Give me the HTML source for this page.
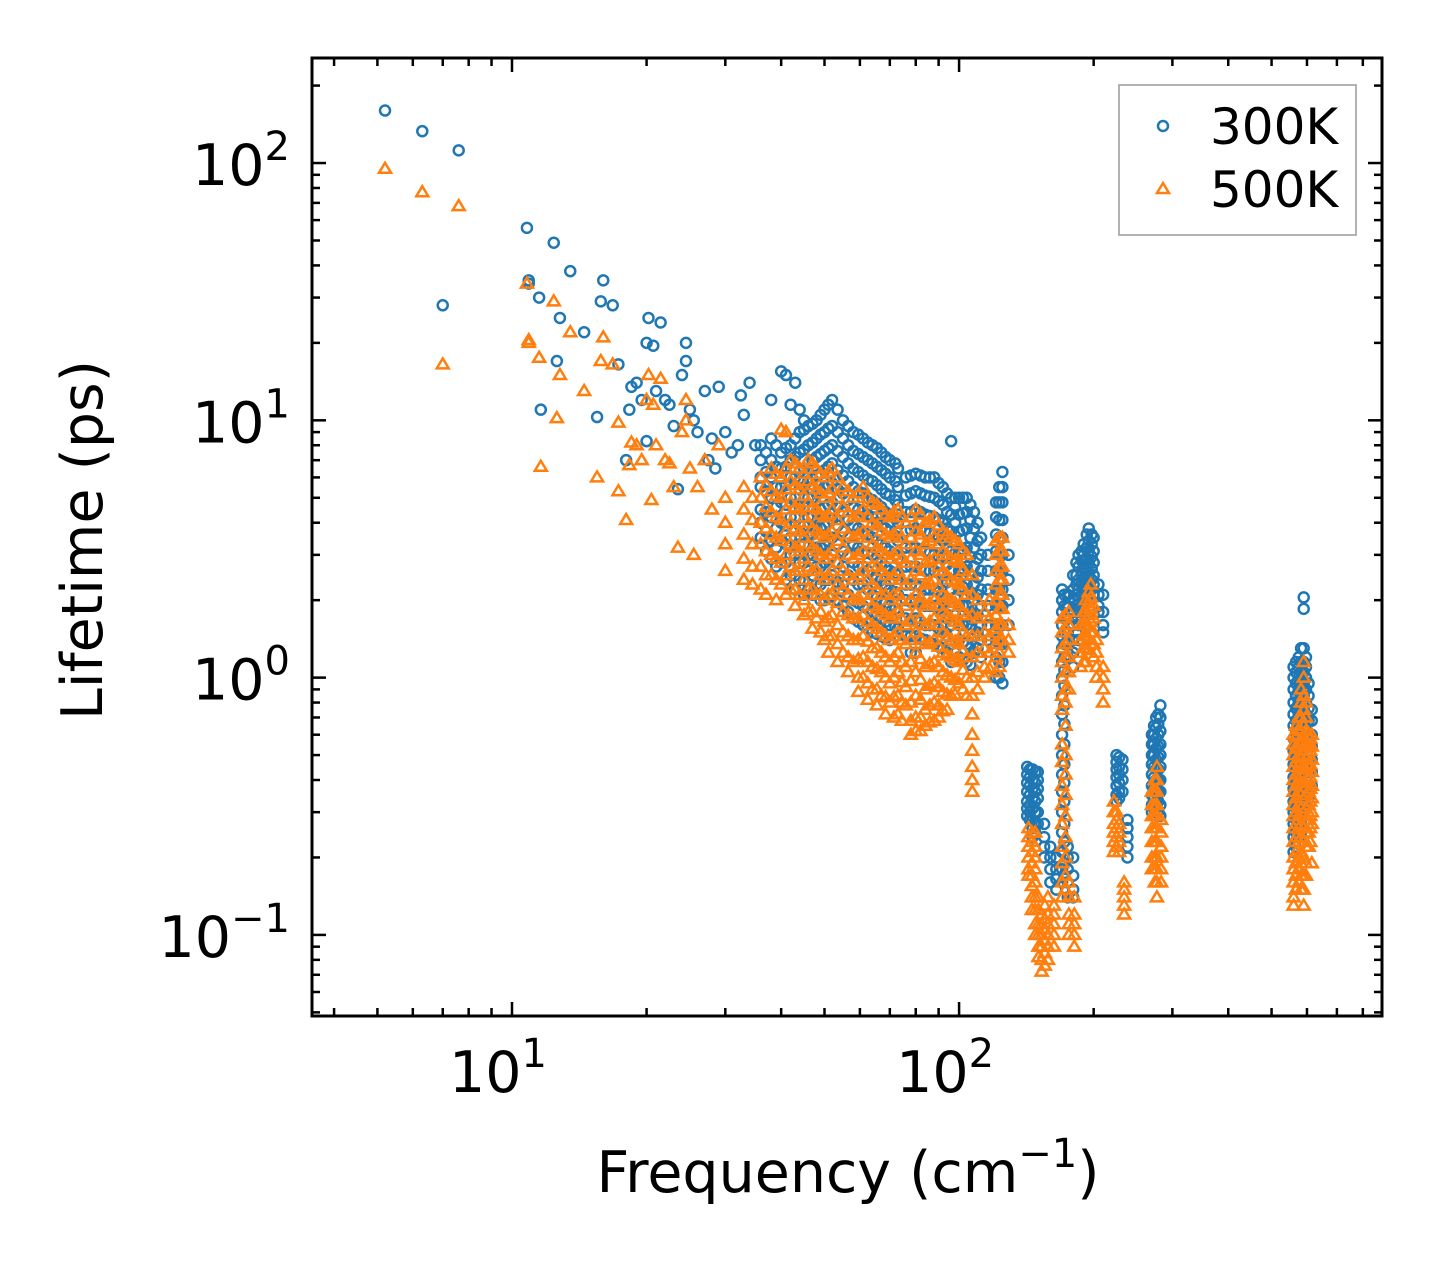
<!DOCTYPE html>
<html><head><meta charset="utf-8"><style>
html,body{margin:0;padding:0;background:#fff;}
svg{display:block;font-family:"DejaVu Sans","Liberation Sans",sans-serif;}
</style></head><body>
<svg id="chart" width="1442" height="1265" viewBox="0 0 1442 1265" xmlns="http://www.w3.org/2000/svg">
<rect width="1442" height="1265" fill="#fff"/>
<g id="marks300"></g>
<g id="marks500"></g>
<g id="axes"></g>
<rect x="312" y="58" width="1070" height="958" fill="none" stroke="#000" stroke-width="3"/>
<text transform="translate(102,540) rotate(-90)" text-anchor="middle" font-size="57">Lifetime (ps)</text>
<text x="848" y="1192" text-anchor="middle" font-size="57">Frequency (cm<tspan font-size="40" dy="-25">−1</tspan><tspan dy="25">)</tspan></text>
<g>
<rect x="1119" y="85" width="237" height="150" fill="#fff" stroke="#999" stroke-width="1.5"/>
<circle cx="1163" cy="126" r="5" fill="none" stroke="#1f77b4" stroke-width="2.5"/>
<text x="1210" y="144" font-size="50">300K</text>
<polygon points="1163,183 1169,193 1157,193" fill="none" stroke="#ff7f0e" stroke-width="2.5"/>
<text x="1210" y="207" font-size="50">500K</text>
</g>
</svg>
<script>
// columns: [frequency, lifetime, lifetime, ...]
const xTickValues = [10, 100];
const xTickLabels = ["10", "10"];
const xTickExps = ["1", "2"];
const yTickValues = [0.1, 1, 10, 100];
const yTickLabels = ["10", "10", "10", "10"];
const yTickExps = ["−1", "0", "1", "2"];

const series300 = [
[5.2,160],[6.3,133],[7.0,28],[7.6,112],[10.8,56],[10.9,35,34],[11.5,30],[11.6,11],[12.4,49],[12.6,17],[12.8,25],[13.5,38],[14.5,22],[15.5,10.3],[15.8,29],[16,35],[16.8,28],[17.3,16.5],[18,7],[18.3,11],[18.5,13.5],[19,14],[19.5,12],[20,20,8.3],[20.2,25],[20.7,19.5],[21,13],[21.5,24],[22,12],[22.5,11.5],[23,9.5],[23.5,5.4],[24,15],[24.5,20,17],[25,11],[25.5,10],[26,9],[27,13],[27.5,7],[28,8.5],[28.5,6.5],[29,13.5],[30,9],[31,7.5],[32,8],[32.5,12.5],[33,10.5],[34,14],[35,8],[38,12],[40,15.5],[41,15],[42,11.5],[43,14],[44,11],[45,10],
[36,8,7,6,5.5,4.5,4,3.5],[38,8.5,7,6,5,4.2,3.4,2.9],[40,7.5,6.5,5.5,4.8,4,3.4,2.8],[42,8,7,6,5,4.2,3.5,3,2.5],
[44,9,7.5,6.3,5.4,4.6,3.9,3.3,2.8,2.4],[46,9.5,8,6.8,5.8,5,4.2,3.6,3,2.6,2.2],[48,10,8.5,7.2,6.1,5.2,4.4,3.8,3.2,2.7,2.3],
[50,11,9,7.6,6.4,5.5,4.6,3.9,3.3,2.8,2.4,2],[52,12,9.5,8,6.8,5.7,4.8,4.1,3.5,3,2.5,2.1],[55,10,8.5,7.2,6.1,5.2,4.4,3.7,3.1,2.7,2.3,1.9],
[58,9,7.6,6.5,5.5,4.6,3.9,3.3,2.8,2.4,2,1.7],[61,8.5,7.2,6.1,5.2,4.4,3.7,3.1,2.7,2.3,1.9,1.6],[64,8,6.8,5.8,4.9,4.2,3.5,3,2.5,2.1,1.8,1.5],
[67,7.5,6.4,5.4,4.6,3.9,3.3,2.8,2.4,2,1.7,1.45],[70,7,6,5.1,4.3,3.7,3.1,2.6,2.2,1.9,1.6,1.4],[73,6.5,5.5,4.7,4,3.4,2.9,2.5,2.1,1.8,1.55],
[76,6,5.1,4.4,3.7,3.2,2.7,2.3,2,1.7,1.45],[80,6.2,5.3,4.5,3.8,3.2,2.7,2.3,2,1.7,1.45,1.25],[84,6,5.1,4.3,3.7,3.1,2.6,2.2,1.9,1.6,1.4],
[88,6,5,4.2,3.6,3,2.6,2.2,1.9,1.6,1.35],[92,5.5,4.7,4,3.4,2.9,2.5,2.1,1.8,1.5,1.3],[96,8.3,5,4.3,3.7,3.1,2.6,2.2,1.9,1.6,1.35,1.15],
[100,5,4.3,3.7,3.1,2.6,2.2,1.9,1.6,1.4,1.2],[104,5,4.4,3.8,3.2,2.7,2.3,1.9,1.6,1.35,1.15],[108,4.4,3.8,3.2,2.7,2.3,2,1.7,1.45,1.25],
[112,3.5,3,2.6,2.2,1.9,1.6,1.4,1.2],[116,3,2.6,2.2,1.9,1.6,1.4],[121,4.8,4.2,3.6,3.1,2.6,2.2,1.9,1.6,1.4,1.2,1.0],
[125,6.3,5.5,4.8,4.1,3.5,3,2.6,2.2,1.9,1.6,1.35,1.15,0.95],[129,3,2.4,2,1.6],
[37,7.5,6.3,5.3,4.4,3.7,3.1],[39,8,6.6,5.5,4.6,3.8,3.2,2.7],[41,7.8,6.6,5.6,4.7,3.9,3.3,2.8,2.4],[43,8.5,7.2,6,5,4.2,3.5,3,2.5,2.2],
[45,9.2,7.7,6.5,5.5,4.6,3.9,3.3,2.8,2.4,2.1],[47,9.7,8.2,7,5.9,5,4.2,3.6,3,2.5,2.1],[49,10.5,8.8,7.4,6.2,5.3,4.5,3.8,3.2,2.7,2.3,2],
[51,11.5,9.3,7.8,6.6,5.6,4.7,4,3.4,2.9,2.4,2.05],[53.5,11,9,7.6,6.4,5.4,4.6,3.9,3.3,2.8,2.35,2],[56.5,9.5,8,6.8,5.8,4.9,4.1,3.5,3,2.5,2.1,1.8],
[59.5,8.8,7.4,6.3,5.3,4.5,3.8,3.2,2.7,2.3,1.95,1.65],[62.5,8.2,7,5.9,5,4.3,3.6,3.05,2.6,2.2,1.85,1.55],[65.5,7.8,6.6,5.6,4.75,4,3.4,2.9,2.45,2.05,1.75,1.48],
[68.5,7.2,6.2,5.2,4.4,3.8,3.2,2.7,2.3,1.95,1.65,1.42],[72,6.8,5.8,4.9,4.15,3.55,3,2.55,2.15,1.85,1.58],[78,6.1,5.2,4.4,3.75,3.2,2.7,2.3,1.97,1.68,1.45,1.25],
[82,6.1,5.2,4.4,3.75,3.15,2.65,2.25,1.95,1.65,1.42],[86,6,5.05,4.25,3.65,3.05,2.6,2.2,1.9,1.6,1.37],[90,5.7,4.85,4.1,3.5,2.95,2.55,2.15,1.85,1.55,1.32],
[94,5.2,4.4,3.8,3.2,2.75,2.35,2,1.7,1.45,1.25],[98,5,4.6,4,3.4,2.9,2.4,2.05,1.75,1.48,1.25],[102,5,4.35,3.75,3.15,2.65,2.25,1.9,1.6,1.37,1.17],
[106,4.7,4.1,3.5,2.95,2.5,2.15,1.8,1.55,1.3,1.12],[110,4,3.4,2.9,2.45,2.1,1.75,1.5,1.3],[123,5.5,4.8,4.1,3.5,3,2.55,2.2,1.9,1.6,1.35,1.15,1.0],
[142,0.45,0.42,0.39,0.36,0.33,0.31,0.29],[144,0.44,0.41,0.38,0.35,0.32,0.3,0.28],[146,0.44,0.4,0.37,0.34,0.31,0.28,0.26,0.24],[148,0.43,0.39,0.36,0.33,0.3,0.27,0.25],[150,0.43,0.4,0.37,0.34,0.3,0.27],
[155,0.27,0.24,0.22,0.2],[160,0.22,0.2,0.18,0.16],[165,0.2,0.18,0.165,0.15],
[170,2.2,2,1.8,1.6,1.45,1.3,1.15,1.0,0.85,0.72,0.6,0.5,0.42,0.36,0.3,0.25,0.21,0.18,0.16],
[172,2.1,1.9,1.7,1.5,1.35,1.2,1.07,0.93,0.78,0.66,0.55,0.46,0.39,0.33,0.27,0.23,0.19,0.17],
[175,2.1,1.9,1.7,1.5,1.35,1.2,0.22,0.2,0.18,0.16,0.14],[180,2.5,2.2,2,1.8,1.6,1.4,1.25,1.1,0.2,0.17,0.15,0.14],
[183,2.8,2.5,2.3,2.1,1.9,1.7,1.5,1.3],[185,3,2.7,2.4,2.2,2,1.8,1.6,1.4],[188,3.1,2.85,2.55,2.3,2.1,1.9,1.7],[190,3.3,3,2.7,2.4,2.2,2,1.8],
[193,3.6,3.2,2.9,2.6,2.4,2.2,2],[195,3.8,3.4,3.1,2.8,2.5,2.3,2.1],[198,3.6,3.3,2.95,2.65,2.4,2.2],[200,3.5,3.1,2.8,2.5,2.3,2.1],
[205,2.3,2.1,1.9,1.8],[210,2.1,1.8,1.6,1.5],
[225,0.5,0.47,0.44,0.41,0.38,0.35,0.33],[228,0.49,0.45,0.42,0.39,0.36,0.34],[232,0.48,0.44,0.4,0.36],[238,0.28,0.26,0.24,0.22,0.2],
[270,0.6,0.55,0.5,0.46,0.42,0.38,0.35,0.32,0.3],[273,0.65,0.6,0.55,0.5,0.45,0.41,0.37,0.34,0.31],[276,0.7,0.64,0.58,0.53,0.48,0.44,0.4,0.36,0.33],
[279,0.72,0.66,0.6,0.54,0.49,0.44,0.4,0.36,0.33,0.3],[282,0.78,0.7,0.62,0.55,0.5,0.45,0.4,0.36,0.32,0.29],
[560,1.1,1.0,0.9,0.8,0.72,0.65,0.58,0.52,0.46,0.41,0.37,0.33,0.3,0.27,0.24,0.21],
[567,1.15,1.05,0.95,0.85,0.76,0.68,0.61,0.55,0.49,0.44,0.39,0.35,0.31,0.28,0.25,0.22],
[575,1.2,1.1,1.0,0.9,0.8,0.72,0.65,0.58,0.52,0.46,0.41,0.37,0.33,0.3,0.27,0.24],
[582,1.3,1.15,1.05,0.95,0.85,0.76,0.68,0.61,0.55,0.49,0.44,0.39,0.35,0.31,0.28,0.25],
[590,2.05,1.85,1.3,1.15,1.05,0.95,0.85,0.76,0.68,0.6,0.54,0.48,0.43,0.38,0.34,0.3],
[597,1.2,1.1,1.0,0.9,0.8,0.72,0.64,0.57,0.51,0.45,0.4,0.36,0.32],
[605,0.95,0.85,0.76,0.68,0.6,0.54,0.48,0.43,0.38,0.34],[615,0.75,0.68,0.6,0.54,0.48,0.43,0.38]
];

const series500 = [
[5.2,95],[6.3,77],[7.0,16.5],[7.6,68],[10.8,34],[10.9,20.5,20],[11.5,17.5],[11.6,6.6],[12.4,29],[12.6,10.2],[12.8,15],[13.5,22],[14.5,13],[15.5,6],[15.8,17],[16,21],[16.8,16.5],[17.3,9.8,5.3],[18,4.1],[18.3,6.7],[18.5,8.2],[19,8],[19.5,7],[20,12],[20.2,15],[20.5,4.9],[20.7,11.5],[21,8],[21.5,14.5],[22,7],[22.5,6.8],[23,5.5],[23.5,3.2],[24,9],[24.5,12,10],[25,6.5],[25.5,3],[26,5.5],[27,7],[28,4.5],[29,8],[40,9.2],[41,9],
[30,5,4,3.3,2.6],[33,5.5,4.5,3.6,2.9,2.4],[36,6,5,4,3.3,2.7,2.2],[38,6.5,5.3,4.4,3.6,3,2.5],[40,6,5,4.1,3.4,2.8,2.3],
[42,7,5.8,4.8,4,3.3,2.7,2.2],[44,6.5,5.4,4.5,3.7,3.1,2.6,2.1],[46,7,5.8,4.8,4,3.3,2.7,2.2,1.8],[48,6.5,5.4,4.5,3.7,3.1,2.6,2.1,1.7],
[50,6,5,4.2,3.5,2.9,2.4,2,1.65,1.4],[52,6.5,5.4,4.5,3.7,3.1,2.6,2.1,1.75,1.45],[55,5.5,4.6,3.8,3.2,2.6,2.2,1.8,1.5,1.25],
[58,5,4.2,3.5,2.9,2.4,2,1.7,1.4,1.15],[61,5.5,4.5,3.7,3.1,2.6,2.1,1.75,1.45,1.2,1.0],[64,4.8,4,3.3,2.7,2.3,1.9,1.6,1.3,1.1,0.9],
[67,4.5,3.7,3.1,2.6,2.1,1.8,1.5,1.25,1.05,0.85],[70,4.2,3.5,2.9,2.4,2,1.7,1.4,1.15,0.95,0.8],[73,4.5,3.7,3.1,2.6,2.1,1.8,1.5,1.25,1.05,0.85,0.72],
[76,4,3.3,2.8,2.3,1.9,1.6,1.35,1.1,0.92,0.78],[80,4.5,3.7,3.1,2.6,2.1,1.8,1.5,1.25,1.05,0.85,0.7,0.62],[84,4,3.3,2.8,2.3,1.9,1.6,1.35,1.1,0.9,0.75,0.65],
[88,4.2,3.5,2.9,2.4,2,1.7,1.4,1.15,0.95,0.8,0.68],[92,3.7,3.1,2.6,2.1,1.8,1.5,1.25,1.05,0.88,0.74],[96,3.5,2.9,2.4,2,1.7,1.4,1.2,1.0,0.85],
[100,3.3,2.8,2.3,1.9,1.6,1.35,1.15,0.95],[104,3,2.5,2.1,1.75,1.45,1.2,1.0,0.85],[107,2.5,2.1,1.75,1.45,1.2,1.0,0.85,0.72,0.6,0.52,0.45,0.4,0.36],
[110,2,1.7,1.45,1.25,1.05,0.9],[114,1.8,1.5,1.3,1.1,1.0],[121,3.4,3,2.6,2.3,2,1.75,1.55,1.35,1.2,1.05],[125,3.5,3.1,2.7,2.4,2.1,1.85,1.6,1.4],[129,1.6,1.4,1.25],
[34.5,5,4.1,3.3,2.7,2.3],[37,5.6,4.6,3.8,3.1,2.5,2.1],[39,6.2,5.1,4.2,3.5,2.9,2.4,2.0],[41,6.5,5.4,4.5,3.7,3,2.5,2.1],
[43,6.8,5.6,4.6,3.8,3.2,2.6,2.2,1.9],[45,6.2,5.1,4.2,3.5,2.9,2.4,2,1.75],[47,6.8,5.6,4.6,3.8,3.2,2.6,2.2,1.8,1.55],
[49,6.2,5.2,4.3,3.6,3,2.5,2.1,1.8,1.5],[51,6.3,5.2,4.3,3.6,3,2.5,2.1,1.7,1.45,1.25],[53.5,6,5,4.1,3.4,2.8,2.3,1.95,1.6,1.35,1.15],
[56.5,5.3,4.4,3.6,3,2.5,2.1,1.75,1.45,1.2,1.05],[59.5,5.2,4.3,3.6,3,2.5,2.05,1.7,1.4,1.18,1.0,0.88],[62.5,5,4.2,3.5,2.9,2.4,2,1.65,1.38,1.15,0.95,0.82],
[65.5,4.7,3.9,3.2,2.7,2.2,1.85,1.55,1.3,1.08,0.9,0.78],[68.5,4.3,3.6,3,2.5,2.1,1.75,1.45,1.2,1,0.84,0.72],[71.5,4.4,3.6,3,2.5,2.1,1.75,1.45,1.2,1,0.84,0.7],
[74.5,4.2,3.5,2.9,2.4,2,1.7,1.4,1.15,0.96,0.8,0.68],[78,4.2,3.5,2.9,2.4,2,1.65,1.4,1.15,0.97,0.8,0.68,0.6],[82,4.3,3.6,3,2.5,2.05,1.7,1.42,1.18,0.98,0.82,0.7,0.62],
[86,4.1,3.4,2.85,2.35,1.95,1.65,1.37,1.13,0.93,0.78,0.67],[90,3.9,3.3,2.7,2.25,1.9,1.6,1.32,1.1,0.92,0.78,0.7],[94,3.6,3,2.5,2.05,1.75,1.45,1.22,1.02,0.86,0.75],
[98,3.4,2.85,2.35,1.95,1.65,1.38,1.17,0.98,0.86],[102,3.1,2.6,2.2,1.8,1.5,1.27,1.07,0.9],[117,2,1.7,1.45,1.25,1.08],[123,3.5,3.1,2.7,2.4,2.1,1.85,1.6,1.4,1.25,1.1],
[143,0.26,0.24,0.22,0.2,0.18,0.17],[145.5,0.25,0.23,0.21,0.19,0.17,0.155,0.14,0.125],[148,0.25,0.22,0.2,0.18,0.16,0.14,0.125,0.11,0.1],
[150.5,0.14,0.125,0.11,0.1,0.09,0.082],[153,0.12,0.11,0.1,0.09,0.08,0.072],[155.5,0.13,0.115,0.105,0.095,0.085,0.076],
[158,0.14,0.12,0.11,0.1,0.09,0.08],[163,0.13,0.12,0.11,0.1,0.09],
[170,1.7,1.5,1.3,1.15,1.0,0.85,0.75,0.55,0.47,0.38,0.32,0.27,0.22,0.19,0.16,0.14],
[173,1.75,1.55,1.35,1.2,1.05,0.9,0.8,0.65,0.5,0.42,0.35,0.29,0.24,0.2,0.17,0.15],
[176,1.8,1.6,1.4,1.2,1.05,0.9,0.16,0.14,0.12,0.11,0.1],[181,0.14,0.12,0.11,0.1,0.09],
[187,1.6,1.4,1.25,1.1],[190,1.8,1.6,1.45,1.3,1.15],[192,2,1.8,1.6,1.45,1.3,1.15],[195,2.15,1.95,1.75,1.58,1.42,1.28],[197,2.3,2.05,1.85,1.65,1.5,1.35],
[200,1.9,1.7,1.5,1.35,1.2],[203,1.4,1.25,1.1,1.0],[210,1.1,1.0,0.9,0.8],
[222,0.33,0.3,0.27,0.25,0.23,0.21],[225,0.3,0.28,0.26,0.24,0.22],[228,0.27,0.25,0.23,0.21],[234,0.16,0.15,0.14,0.13,0.12],
[270,0.36,0.32,0.29,0.26,0.23,0.2,0.18],[274,0.4,0.36,0.32,0.29,0.26,0.23,0.2,0.18,0.16],[277,0.45,0.4,0.36,0.32,0.29,0.26,0.23,0.2,0.18,0.16,0.14],[283,0.28,0.25,0.22,0.2,0.18,0.16],
[560,0.6,0.55,0.5,0.45,0.4,0.36,0.32,0.29,0.26,0.23,0.2,0.18,0.16,0.14,0.13],
[567,0.65,0.59,0.53,0.47,0.42,0.38,0.34,0.3,0.27,0.24,0.21,0.19,0.17,0.15],
[575,0.7,0.63,0.56,0.5,0.45,0.4,0.36,0.32,0.29,0.26,0.23,0.2,0.18,0.16],
[582,0.9,0.8,0.7,0.62,0.55,0.49,0.44,0.39,0.35,0.31,0.27,0.24,0.21,0.19,0.17,0.15],
[590,1.15,1.0,0.85,0.75,0.65,0.57,0.5,0.44,0.39,0.34,0.3,0.26,0.23,0.2,0.17,0.15,0.13],
[597,0.8,0.7,0.62,0.55,0.49,0.44,0.39,0.35,0.31,0.28,0.25,0.22,0.19,0.17],
[605,0.6,0.55,0.5,0.45,0.4,0.36,0.32,0.28,0.25,0.22],[610,0.58,0.52,0.46,0.41,0.37,0.33,0.29,0.26,0.23],
[615,0.6,0.54,0.48,0.43,0.38,0.34,0.3,0.27,0.19]
];

const NS = "http://www.w3.org/2000/svg";
const L = 312, R = 1382, T = 58, B = 1016;
const xMin = Math.log10(3.57), xMax = Math.log10(883);
const yMin = Math.log10(0.0484), yMax = Math.log10(256);
function xs(v){ return L + (Math.log10(v) - xMin) / (xMax - xMin) * (R - L); }
function ys(v){ return B - (Math.log10(v) - yMin) / (yMax - yMin) * (B - T); }
function mk(tag, attrs){ const e = document.createElementNS(NS, tag); for (const k in attrs) e.setAttribute(k, attrs[k]); return e; }

const g3 = document.getElementById('marks300');
series300.forEach(col => {
  const f = col[0];
  for (let i = 1; i < col.length; i++) {
    const c = mk('circle', {cx: xs(f), cy: ys(col[i]), r: 5, fill: 'none', stroke: '#1f77b4', 'stroke-width': 2.5});
    
    
    g3.appendChild(c);
  }
});
const g5 = document.getElementById('marks500');
series500.forEach(col => {
  const f = col[0];
  for (let i = 1; i < col.length; i++) {
    const x = xs(f), y = ys(col[i]);
    const p = mk('polygon', {points: `${x},${y-6} ${x+6},${y+4} ${x-6},${y+4}`, fill: 'none', stroke: '#ff7f0e', 'stroke-width': 2.5});
    
    
    g5.appendChild(p);
  }
});

const ax = document.getElementById('axes');
function tick(x1, y1, x2, y2){ const l = mk('line', {x1, y1, x2, y2, stroke: '#000', 'stroke-width': 2.5});   ax.appendChild(l); }
for (let d = 0; d <= 2; d++) for (let m = 1; m <= 9; m++) {
  const v = m * Math.pow(10, d); const x = xs(v);
  if (x < L || x > R) continue;
  const len = m === 1 ? 14 : 8;
  tick(x, B, x, B - len); tick(x, T, x, T + len);
}
for (let d = -2; d <= 2; d++) for (let m = 1; m <= 9; m++) {
  const v = m * Math.pow(10, d); const y = ys(v);
  if (y < T || y > B) continue;
  const len = m === 1 ? 14 : 8;
  tick(L, y, L + len, y); tick(R, y, R - len, y);
}
xTickValues.forEach((v, i) => {
  const t = mk('text', {x: xs(v) - 14, y: 1092, 'text-anchor': 'middle', 'font-size': 57});
  
  
  t.innerHTML = xTickLabels[i] + `<tspan font-size="40" dy="-25">${xTickExps[i]}</tspan>`;
  ax.appendChild(t);
});
yTickValues.forEach((v, i) => {
  const t = mk('text', {x: 290, y: ys(v) + 22, 'text-anchor': 'end', 'font-size': 57});
  
  
  t.innerHTML = yTickLabels[i] + `<tspan font-size="40" dy="-25">${yTickExps[i]}</tspan>`;
  ax.appendChild(t);
});
</script>
</body></html>
